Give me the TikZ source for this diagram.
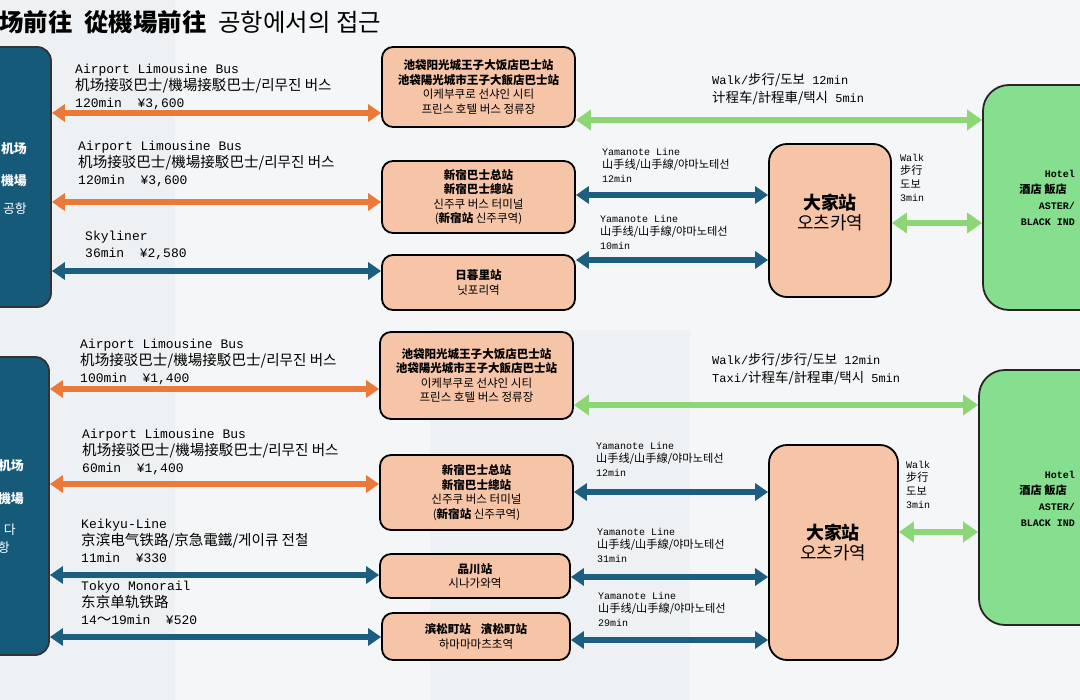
\documentclass[tikz,border=0pt]{standalone}
\usepackage{fontspec}
\setmainfont{Liberation Mono}
\newfontfamily\cjk[Scale=1.12]{Noto Sans CJK SC}
\usetikzlibrary{arrows.meta}
\definecolor{peach}{RGB}{246,196,167}
\definecolor{port}{RGB}{22,90,122}
\definecolor{navy}{RGB}{28,94,128}
\definecolor{orng}{RGB}{234,122,58}
\definecolor{lgreen}{RGB}{140,214,118}
\definecolor{hotel}{RGB}{134,223,142}
\definecolor{bgbase}{RGB}{238,241,243}
\definecolor{bglight}{RGB}{245,246,247}
\begin{document}
\begin{tikzpicture}[x=1pt,y=-1pt,
	box/.style={draw=black,line width=1.8pt,fill=peach,rounded corners=11pt,align=center,inner sep=0pt,font=\cjk\fontsize{10.3}{14.5}\selectfont},
	hub/.style={draw=black,line width=1.8pt,fill=peach,rounded corners=18pt},
	hubtxt/.style={align=center,inner sep=0pt,font=\cjk\fontsize{16}{20}\selectfont},
	apt/.style={draw=black!80,line width=1.8pt,fill=port,rounded corners=14pt},
	htl/.style={draw=black!85,line width=1.8pt,fill=hotel,rounded corners=26pt},
	lbl/.style={anchor=north west,align=left,inner sep=0pt,font=\fontsize{13}{17}\selectfont},
	walk/.style={anchor=north west,align=left,inner sep=0pt,font=\fontsize{12}{18}\selectfont},
	yam/.style={anchor=north west,align=left,inner sep=0pt,font=\fontsize{10}{13.5}\selectfont},
	oarr/.style={{Triangle[length=13pt,width=17pt]}-{Triangle[length=13pt,width=17pt]},line width=5.5pt,draw=orng},
	barr/.style={{Triangle[length=13pt,width=17pt]}-{Triangle[length=13pt,width=17pt]},line width=5.5pt,draw=navy},
	garr/.style={{Triangle[length=15pt,width=20pt]}-{Triangle[length=15pt,width=20pt]},line width=6pt,draw=lgreen}]
	\useasboundingbox (0,0) rectangle (1080,700);
	\clip (0,0) rectangle (1080,700);
	\fill[bgbase] (0,0) rectangle (1080,700);
	\fill[bglight] (175,0) rectangle (430,700);
	\fill[bglight] (430,0) rectangle (945,330);
	\fill[bglight] (690,330) rectangle (945,700);
	\fill[bglight] (945,0) rectangle (1080,700);

	\node[anchor=west,inner sep=0pt,font=\cjk\fontsize{21.8}{24}\selectfont] (ttl) at (-1,22) {\textbf{场前往}\hspace{12pt}\textbf{從機場前往}\hspace{12pt}공항에서의 접근};

	\node[apt,minimum width=72pt,minimum height=260pt] (ltop) at (15,177) {};
	\node[apt,minimum width=70pt,minimum height=298pt] (lbot) at (14,506) {};
	\node[anchor=east,align=right,inner sep=0pt,text=white,font=\cjk\fontsize{11.5}{32}\selectfont] (ltxt) at (27,178) {\textbf{机场}\\\textbf{機場}\\[-4pt]공항};
	\node[anchor=north east,align=right,inner sep=0pt,text=white,font=\cjk\fontsize{11.5}{18}\selectfont] (btxt) at (24,459) {\textbf{机场}\\[15pt]\textbf{機場}\\[13pt]다\kern8pt\\항\kern14pt};

	\node[box,minimum width=193pt,minimum height=80pt] (p1) at (478.5,87) {\textbf{池袋阳光城王子大饭店巴士站}\\\textbf{池袋陽光城市王子大飯店巴士站}\\이케부쿠로 선샤인 시티\\프린스 호텔 버스 정류장};
	\node[box,minimum width=193pt,minimum height=72pt] (p2) at (478.5,197) {\textbf{新宿巴士总站}\\\textbf{新宿巴士總站}\\신주쿠 버스 터미널\\(\textbf{新宿站} 신주쿠역)};
	\node[box,minimum width=193pt,minimum height=55pt] (p3) at (478.5,282.5) {\textbf{日暮里站}\\닛포리역};
	\node[box,minimum width=193pt,minimum height=87pt] (q1) at (476.5,375.5) {\textbf{池袋阳光城王子大饭店巴士站}\\\textbf{池袋陽光城市王子大飯店巴士站}\\이케부쿠로 선샤인 시티\\프린스 호텔 버스 정류장};
	\node[box,minimum width=193pt,minimum height=75pt] (q2) at (476.5,492.5) {\textbf{新宿巴士总站}\\\textbf{新宿巴士總站}\\신주쿠 버스 터미널\\(\textbf{新宿站} 신주쿠역)};
	\node[box,minimum width=190pt,minimum height=44pt] (q3) at (475,576) {\textbf{品川站}\\시나가와역};
	\node[box,minimum width=188pt,minimum height=47pt] (q4) at (476,636.5) {\textbf{滨松町站}\hspace{10pt}\textbf{濱松町站}\\하마마마츠초역};

	\node[hub,minimum width=122pt,minimum height=153pt] (s1) at (830,220.5) {};
	\node[hub,minimum width=129pt,minimum height=215pt] (s2) at (833.5,552.5) {};
	\node[hubtxt] (s1txt) at (830,212) {\textbf{大家站}\\오츠카역};
	\node[hubtxt] (s2txt) at (833,542) {\textbf{大家站}\\오츠카역};

	\node[htl,minimum width=214pt,minimum height=225pt] (h1) at (1090,197.5) {};
	\node[htl,minimum width=218pt,minimum height=255pt] (h2) at (1088,497.5) {};
	\node[anchor=east,align=right,inner sep=0pt,font=\bfseries\fontsize{10}{16}\selectfont] (h1txt) at (1075,198) {Hotel\\{\cjk 酒店 飯店}\kern8pt\\ASTER/\\BLACK IND};
	\node[anchor=east,align=right,inner sep=0pt,font=\bfseries\fontsize{10}{16}\selectfont] (h2txt) at (1075,498.5) {Hotel\\{\cjk 酒店 飯店}\kern8pt\\ASTER/\\BLACK IND};

	\node[lbl] (l1) at (75,64) {Airport Limousine Bus\\{\cjk 机场接驳巴士/機場接駁巴士/리무진 버스}\\120min\ \ ¥3,600};
	\node[lbl] (l2) at (78,141) {Airport Limousine Bus\\{\cjk 机场接驳巴士/機場接駁巴士/리무진 버스}\\120min\ \ ¥3,600};
	\node[lbl] (l3) at (85,231) {Skyliner\\36min\ \ ¥2,580};
	\node[walk] (w1) at (712,73) {Walk/{\cjk 步行/도보} 12min\\{\cjk 计程车/計程車/택시} 5min};
	\node[yam] (y1) at (602,148) {Yamanote Line\\{\cjk 山手线/山手線/야마노테선}\\12min};
	\node[yam] (y2) at (600,215) {Yamanote Line\\{\cjk 山手线/山手線/야마노테선}\\10min};
	\node[yam] (k1) at (900,154) {Walk\\{\cjk 步行}\\{\cjk 도보}\\3min};

	\node[lbl] (l4) at (80,339) {Airport Limousine Bus\\{\cjk 机场接驳巴士/機場接駁巴士/리무진 버스}\\100min\ \ ¥1,400};
	\node[lbl] (l5) at (82,429) {Airport Limousine Bus\\{\cjk 机场接驳巴士/機場接駁巴士/리무진 버스}\\60min\ \ ¥1,400};
	\node[lbl] (l6) at (81,519) {Keikyu-Line\\{\cjk 京滨电气铁路/京急電鐵/게이큐 전철}\\11min\ \ ¥330};
	\node[lbl] (l7) at (81,581) {Tokyo Monorail\\{\cjk 东京单轨铁路}\\14{\cjk ～}19min\ \ ¥520};
	\node[walk] (w2) at (712,353) {Walk/{\cjk 步行/步行/도보} 12min\\Taxi/{\cjk 计程车/計程車/택시} 5min};
	\node[yam] (y3) at (596,442) {Yamanote Line\\{\cjk 山手线/山手線/야마노테선}\\12min};
	\node[yam] (y4) at (597,528) {Yamanote Line\\{\cjk 山手线/山手線/야마노테선}\\31min};
	\node[yam] (y5) at (598,592) {Yamanote Line\\{\cjk 山手线/山手線/야마노테선}\\29min};
	\node[yam] (k2) at (906,461) {Walk\\{\cjk 步行}\\{\cjk 도보}\\3min};

	\draw[oarr] (ltop.east |- 0,113) -- (p1.west |- 0,113);
	\draw[oarr] (ltop.east |- 0,202) -- (p2.west |- 0,202);
	\draw[barr] (ltop.east |- 0,271) -- (p3.west |- 0,271);
	\draw[garr] (p1.east |- 0,120) -- (h1.west |- 0,120);
	\draw[barr] (p2.east |- 0,195) -- (s1.west |- 0,195);
	\draw[barr] (p3.east |- 0,260) -- (s1.west |- 0,260);
	\draw[garr] (s1.east |- 0,223) -- (h1.west |- 0,223);

	\draw[oarr] (lbot.east |- 0,389) -- (q1.west |- 0,389);
	\draw[oarr] (lbot.east |- 0,484) -- (q2.west |- 0,484);
	\draw[barr] (lbot.east |- 0,575) -- (q3.west |- 0,575);
	\draw[barr] (lbot.east |- 0,637) -- (q4.west |- 0,637);
	\draw[garr] (q1.east |- 0,405) -- (h2.west |- 0,405);
	\draw[barr] (q2.east |- 0,492) -- (s2.west |- 0,492);
	\draw[barr] (q3.east |- 0,577) -- (s2.west |- 0,577);
	\draw[barr] (q4.east |- 0,640) -- (s2.west |- 0,640);
	\draw[garr] (s2.east |- 0,532) -- (h2.west |- 0,532);
\end{tikzpicture}
\end{document}
